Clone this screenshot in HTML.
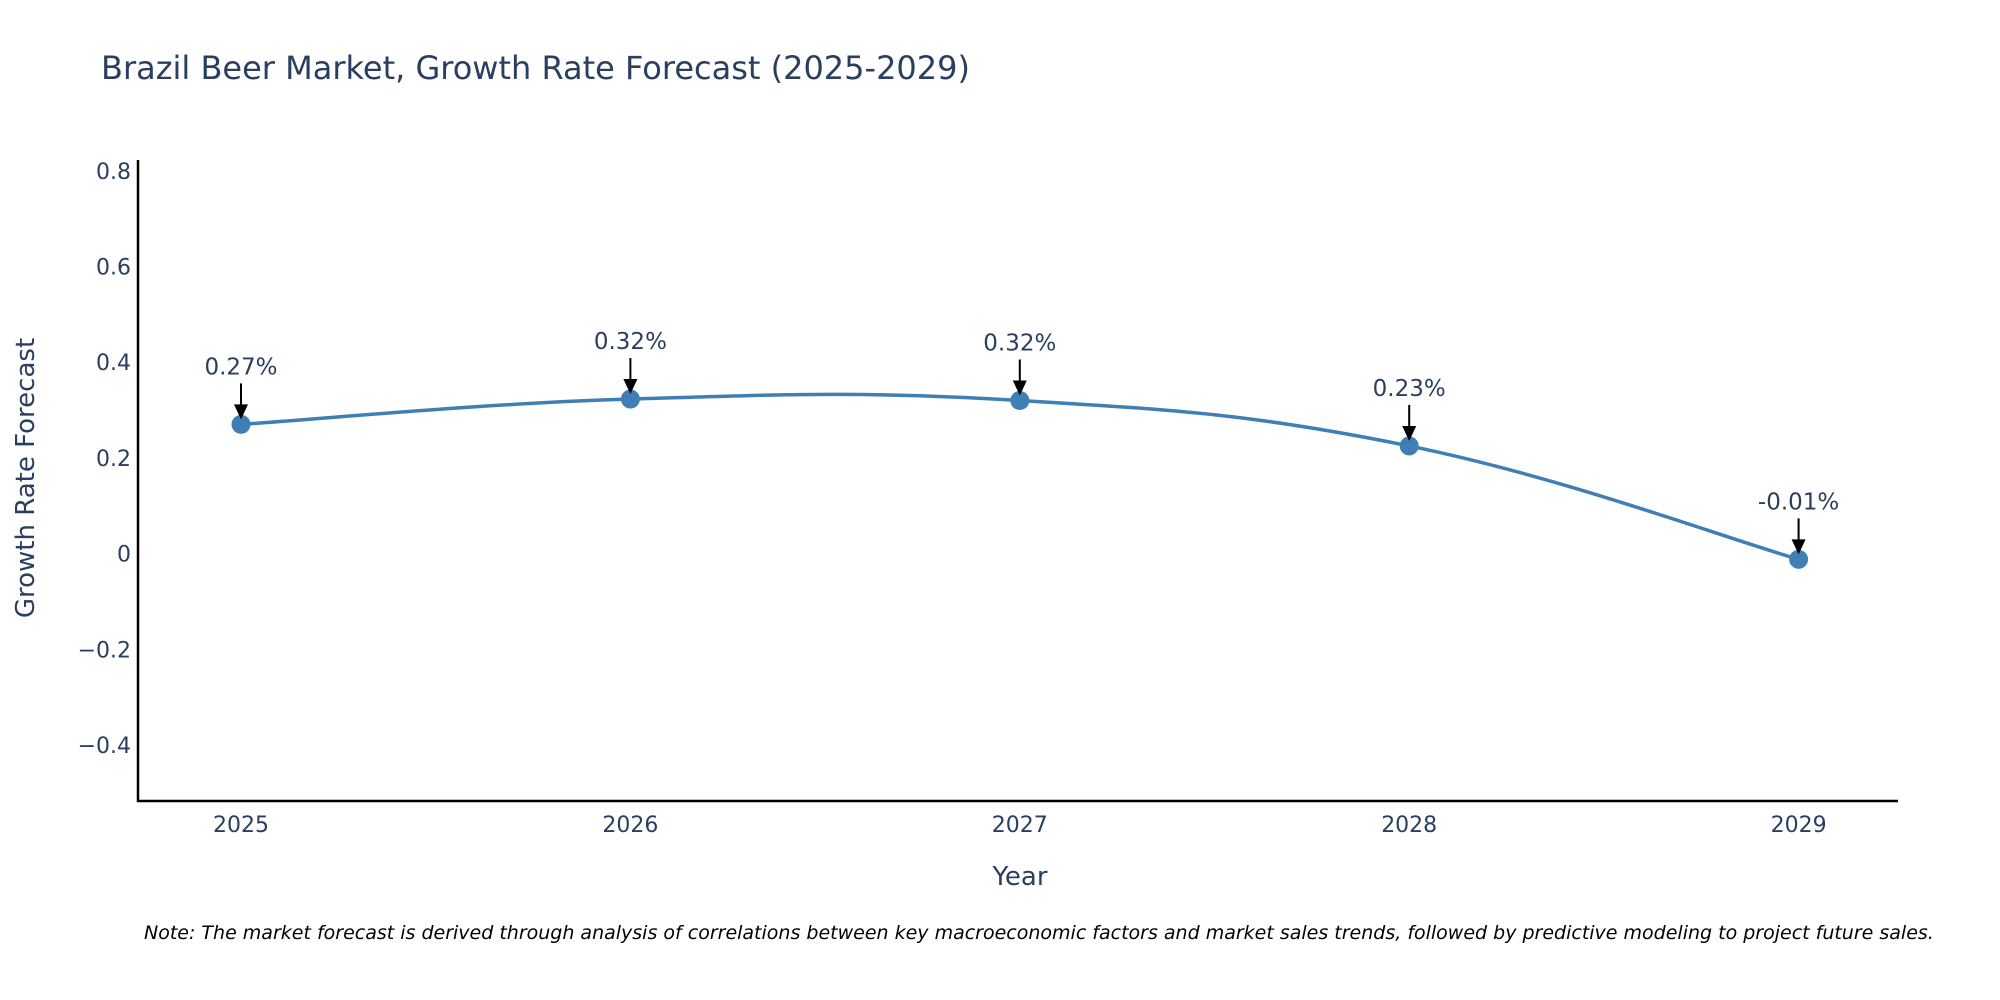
<!DOCTYPE html>
<html><head><meta charset="utf-8"><style>
body{margin:0;background:#fff;}
svg{display:block;font-family:"DejaVu Sans","Liberation Sans",sans-serif;}
</style></head><body>
<svg id="chart" width="2000" height="1000" viewBox="0 0 2000 1000">
<rect width="2000" height="1000" fill="#fff"/>
<text x="101" y="79" font-size="32" fill="#2a3f5f">Brazil Beer Market, Growth Rate Forecast (2025-2029)</text>
<g id="yticks"></g>
<g id="xticks"></g>
<line x1="138" y1="160" x2="138" y2="802" stroke="#000" stroke-width="2.5"/>
<line x1="137" y1="801" x2="1898" y2="801" stroke="#000" stroke-width="2.5"/>
<text x="1020" y="885" font-size="26" fill="#2a3f5f" text-anchor="middle">Year</text>
<text transform="translate(34,478) rotate(-90)" font-size="26" fill="#2a3f5f" text-anchor="middle">Growth Rate Forecast</text>
<g id="series"></g>
<g id="annos"></g>
<text x="144" y="939" font-size="19" font-style="italic" fill="#000">Note: The market forecast is derived through analysis of correlations between key macroeconomic factors and market sales trends, followed by predictive modeling to project future sales.</text>
</svg>
<script>
const years = [2025, 2026, 2027, 2028, 2029];
const values = [0.27, 0.323, 0.32, 0.225, -0.012];
const labels = ["0.27%", "0.32%", "0.32%", "0.23%", "-0.01%"];
const yTicks = [0.8, 0.6, 0.4, 0.2, 0, -0.2, -0.4];
const yTickLabels = ["0.8", "0.6", "0.4", "0.2", "0", "\u22120.2", "\u22120.4"];

const NS = "http://www.w3.org/2000/svg";
function xs(yr){ return 241 + (yr - 2025) * 389.4; }
function ys(v){ return 553.6 - v * 478.5; }
function mk(tag, attrs, parent){ const e = document.createElementNS(NS, tag); for (const k in attrs) e.setAttribute(k, attrs[k]); parent.appendChild(e); return e; }

const yg = document.getElementById('yticks');
yTicks.forEach((t, i) => {
  const tx = mk('text', {x: 131, y: ys(t) + 8, 'font-size': 22, fill: '#2a3f5f', 'text-anchor': 'end'}, yg);
  tx.textContent = yTickLabels[i];
  
  
});
const xg = document.getElementById('xticks');
years.forEach(yr => {
  const tx = mk('text', {x: xs(yr), y: 832, 'font-size': 22, fill: '#2a3f5f', 'text-anchor': 'middle'}, xg);
  tx.textContent = String(yr);
  
  
});

const pts = years.map((y, i) => [xs(y), ys(values[i])]);
let d = 'M' + pts[0][0] + ',' + pts[0][1];
const s = 0.4;
for (let i = 0; i < pts.length - 1; i++) {
  const p0 = pts[Math.max(0, i-1)], p1 = pts[i], p2 = pts[i+1], p3 = pts[Math.min(pts.length-1, i+2)];
  const c1 = [p1[0] + (p2[0]-p0[0])*s/2, p1[1] + (p2[1]-p0[1])*s/2];
  const c2 = [p2[0] - (p3[0]-p1[0])*s/2, p2[1] - (p3[1]-p1[1])*s/2];
  d += ' C' + c1[0] + ',' + c1[1] + ' ' + c2[0] + ',' + c2[1] + ' ' + p2[0] + ',' + p2[1];
}
const sg = document.getElementById('series');
const path = mk('path', {d: d, fill: 'none', stroke: '#3f7fb3', 'stroke-width': 3.5}, sg);


pts.forEach(p => {
  const c = mk('circle', {cx: p[0], cy: p[1], r: 9.5, fill: '#3f7fb3'}, sg);
  
  
});

const ag = document.getElementById('annos');
pts.forEach((p, i) => {
  const ln = mk('line', {x1: p[0], y1: p[1] - 41, x2: p[0], y2: p[1] - 18, stroke: '#000', 'stroke-width': 2}, ag);
  
  
  const hd = mk('polygon', {points: (p[0]-7)+','+(p[1]-20)+' '+(p[0]+7)+','+(p[1]-20)+' '+p[0]+','+(p[1]-5), fill: '#000'}, ag);
  
  
  const tx = mk('text', {x: p[0], y: p[1] - 50, 'font-size': 23, fill: '#2a3f5f', 'text-anchor': 'middle'}, ag);
  tx.textContent = labels[i];
  
  
});
</script>
</body></html>
